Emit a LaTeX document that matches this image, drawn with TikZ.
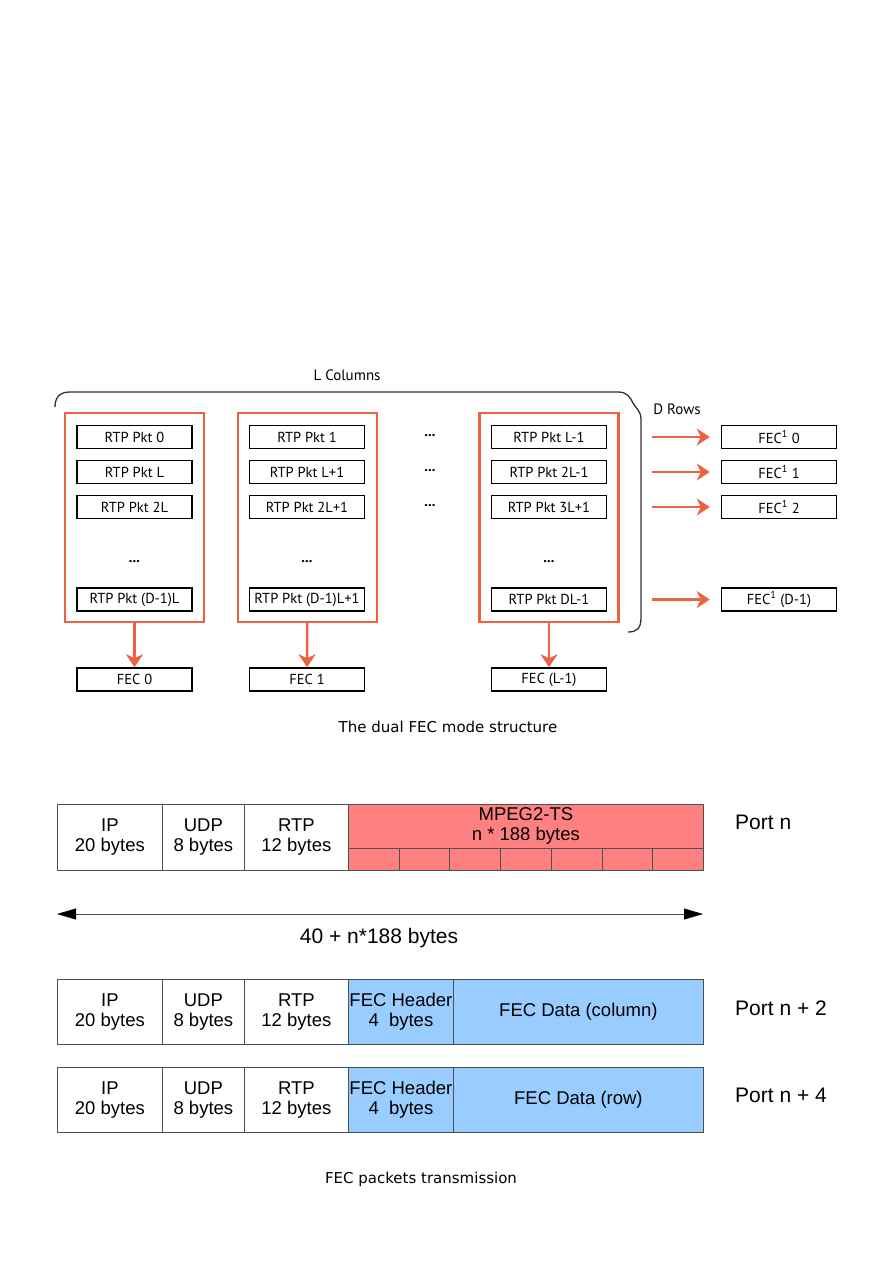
\documentclass[tikz,border=0pt]{standalone}
\usepackage{fontspec}
\setmainfont{Liberation Sans}
\newfontfamily\pktfont{PT Sans}
\newfontfamily\capfont{DejaVu Sans}
\definecolor{FecOrange}{RGB}{236,98,66}
\definecolor{TsRed}{RGB}{255,128,128}
\definecolor{FecBlue}{RGB}{153,204,255}
\definecolor{CellLine}{RGB}{80,80,80}
\usetikzlibrary{arrows.meta, positioning}

\begin{document}
\begin{tikzpicture}[x=1pt, y=-1pt,
    node distance=10.5pt and 113.5pt,
    pkt/.style={draw=black, line width=1.5pt, rectangle, minimum width=115pt, minimum height=23pt, inner sep=0pt, font=\pktfont\fontsize{14.5}{16}\selectfont},
    colbox/.style={draw=FecOrange, line width=2.4pt, rectangle, minimum width=139pt, minimum height=209pt},
    dots/.style={font=\pktfont\bfseries\fontsize{14.5}{16}\selectfont, inner sep=0pt},
    arrow/.style={-{Stealth[length=13pt, width=17pt, inset=4pt]}, line width=2.4pt, color=FecOrange},
    cell/.style={draw=CellLine, line width=0.8pt, rectangle, anchor=north west, minimum height=65pt, inner sep=1pt, align=center, font=\fontsize{18.5}{20}\selectfont},
    lenarrow/.style={{Triangle[length=19pt, width=11pt, color=black]}-{Triangle[length=19pt, width=11pt, color=black]}, line width=0.8pt, draw=CellLine},
    port/.style={anchor=west, inner sep=0pt, font=\fontsize{21}{24}\selectfont},
    caption/.style={font=\capfont\fontsize{15}{17}\selectfont}
  ]
    \useasboundingbox (0,0) rectangle (894,1263);

    % dual FEC mode structure
    \node (lcols) [font=\pktfont\fontsize{15}{17}\selectfont] at (347,375) {L Columns};
    \draw [line width=1.3pt, color=black!80] (55,407) .. controls (55,397) and (60,392) .. (70,392) -- (618,392) .. controls (627,392) and (630,397) .. (633,403) .. controls (636,409) and (641,410) .. (641,420) -- (641,618) .. controls (641,628) and (637,632) .. (628,632);
    \node (drows) [font=\pktfont\fontsize{15}{17}\selectfont] at (677,409) {D Rows};

    \node (col1) [colbox] at (134.5,517.5) {};
    \node (col2) [colbox] at (307.5,517.5) {};
    \node (col3) [colbox] at (549,517.5) {};

    \node (p0) [pkt] at (134.5,437) {RTP Pkt 0};
    \node (pL) [pkt, below=of p0] {RTP Pkt L};
    \node (p2L) [pkt, below=of pL] {RTP Pkt 2L};
    \node (dots1) [dots] at (134.5,562) {...};
    \node (pD1L) [pkt] at (134.5,599.5) {RTP Pkt (D-1)L};

    \node (p1) [pkt] at (307,437) {RTP Pkt 1};
    \node (pL1) [pkt, below=of p1] {RTP Pkt L+1};
    \node (p2L1) [pkt, below=of pL1] {RTP Pkt 2L+1};
    \node (dots2) [dots] at (307,562) {...};
    \node (pD1L1) [pkt] at (307,599.5) {RTP Pkt (D-1)L+1};

    \node (mid0) [dots] at (430,436) {...};
    \node (mid1) [dots] at (430,470.5) {...};
    \node (mid2) [dots] at (430,505.5) {...};

    \node (pLm1) [pkt] at (549,437) {RTP Pkt L-1};
    \node (p2Lm1) [pkt, below=of pLm1] {RTP Pkt 2L-1};
    \node (p3L1) [pkt, below=of p2Lm1] {RTP Pkt 3L+1};
    \node (dots3) [dots] at (549,562) {...};
    \node (pDLm1) [pkt] at (549,599.5) {RTP Pkt DL-1};

    \node (fec0) [pkt] at (134.5,679.5) {FEC 0};
    \node (fec1) [pkt] at (307,679.5) {FEC 1};
    \node (fecL) [pkt] at (549,679.5) {FEC (L-1)};

    \node (row0) [pkt, right=of pLm1] {FEC\textsuperscript{1}\ 0};
    \node (row1) [pkt, right=of p2Lm1] {FEC\textsuperscript{1}\ 1};
    \node (row2) [pkt, right=of p3L1] {FEC\textsuperscript{1}\ 2};
    \node (rowD) [pkt, right=of pDLm1] {FEC\textsuperscript{1}\ (D-1)};

    \draw [arrow] (col1) -- (fec0);
    \draw [arrow] (col2) -- (fec1);
    \draw [arrow] (col3) -- (fecL);
    \draw [arrow, shorten <=45pt, shorten >=11pt] (pLm1) -- (row0);
    \draw [arrow, shorten <=45pt, shorten >=11pt] (p2Lm1) -- (row1);
    \draw [arrow, shorten <=45pt, shorten >=11pt] (p3L1) -- (row2);
    \draw [arrow, shorten <=45pt, shorten >=11pt] (pDLm1) -- (rowD);

    \node (cap1) [caption] at (448,727) {The dual FEC mode structure};

    % FEC packets transmission
    \node (ip1) [cell, minimum width=105pt, minimum height=66pt] at (57,804) {IP\\20 bytes};
    \node (udp1) [cell, minimum width=82pt, minimum height=66pt] at (162,804) {UDP\\8 bytes};
    \node (rtp1) [cell, minimum width=104pt, minimum height=66pt] at (244,804) {RTP\\12 bytes};
    \node (ts1) [cell, fill=TsRed, minimum width=355pt, minimum height=44pt] at (348,804) {MPEG2-TS\\n * 188 bytes};
    \foreach \i in {0,...,6}
      \node (ts1c\i) [cell, fill=TsRed, minimum width=50.71pt, minimum height=22pt] at (348+50.71*\i,848) {};
    \node (port1) [port] at (735,822) {Port n};

    \coordinate (lenL) at (57,914);
    \coordinate (lenR) at (703,914);
    \draw [lenarrow] (lenL) -- (lenR);
    \node (lentext) [font=\fontsize{21}{24}\selectfont] at (379,938) {40 + n*188 bytes};

    \node (ip2) [cell, minimum width=105pt] at (57,979) {IP\\20 bytes};
    \node (udp2) [cell, minimum width=82pt] at (162,979) {UDP\\8 bytes};
    \node (rtp2) [cell, minimum width=104pt] at (244,979) {RTP\\12 bytes};
    \node (hdr2) [cell, fill=FecBlue, minimum width=105pt] at (348,979) {FEC Header\\4\ \ bytes};
    \node (data2) [cell, fill=FecBlue, minimum width=250pt] at (453,979) {FEC Data (column)};
    \node (port2) [port] at (735,1008) {Port n + 2};

    \node (ip3) [cell, minimum width=105pt] at (57,1067) {IP\\20 bytes};
    \node (udp3) [cell, minimum width=82pt] at (162,1067) {UDP\\8 bytes};
    \node (rtp3) [cell, minimum width=104pt] at (244,1067) {RTP\\12 bytes};
    \node (hdr3) [cell, fill=FecBlue, minimum width=105pt] at (348,1067) {FEC Header\\4\ \ bytes};
    \node (data3) [cell, fill=FecBlue, minimum width=250pt] at (453,1067) {FEC Data (row)};
    \node (port3) [port] at (735,1095) {Port n + 4};

    \node (cap2) [caption] at (421,1179) {FEC packets transmission};
\end{tikzpicture}
\end{document}
